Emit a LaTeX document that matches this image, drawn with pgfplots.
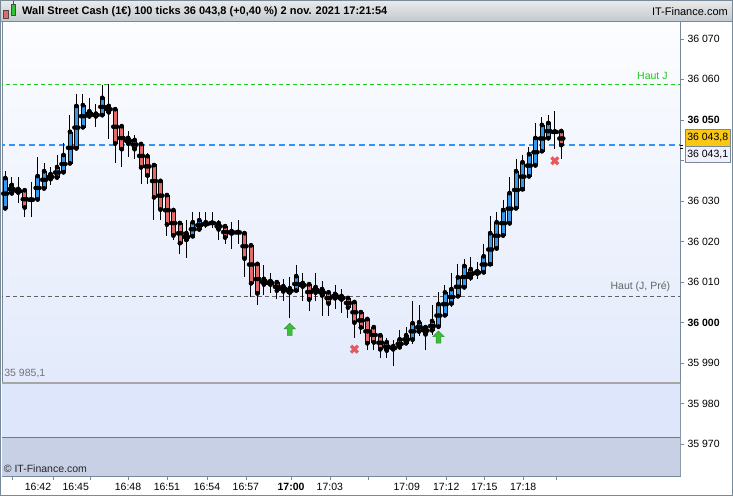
\documentclass[border=0pt]{standalone}
\usepackage{fontspec}
\setmainfont{Liberation Sans}
\usepackage{pgfplots}
\pgfplotsset{compat=1.18}
\usepackage{pgfplotstable}

\definecolor{upc}{RGB}{52,152,236}
\definecolor{dnc}{RGB}{228,106,106}
\definecolor{frame}{RGB}{120,138,152}
\definecolor{bgtop}{RGB}{252,253,255}
\definecolor{bgbot}{RGB}{220,229,250}
\definecolor{bandA}{RGB}{221,230,251}
\definecolor{bandB}{RGB}{200,208,230}
\definecolor{hautj}{RGB}{30,200,30}
\definecolor{lastc}{RGB}{51,150,245}
\definecolor{prev}{RGB}{100,100,100}
\definecolor{buyg}{RGB}{60,190,60}
\definecolor{buyd}{RGB}{40,150,40}
\definecolor{sellr}{RGB}{228,90,95}
\definecolor{gold}{RGB}{250,200,20}

% tick candles: index, open, high, low, close
\pgfplotstableread{
i O H L C
1 36028.2 36037.4 36028.0 36035.6
2 36031.9 36035.9 36031.5 36033.9
3 36032.9 36035.9 36029.6 36032.1
4 36032.6 36032.6 36026.1 36028.4
5 36030.3 36034.7 36026.1 36030.3
6 36030.4 36040.8 36030.4 36036.1
7 36033.1 36039.3 36033.1 36037.3
8 36035.4 36038.3 36034.0 36036.6
9 36035.8 36041.4 36035.8 36038.3
10 36037.1 36044.2 36037.1 36041.3
11 36039.3 36051.2 36039.3 36047.0
12 36043.0 36056.4 36043.0 36053.4
13 36048.2 36056.4 36048.2 36053.6
14 36050.9 36055.4 36050.2 36052.1
15 36051.5 36054.0 36048.2 36050.9
16 36051.2 36058.5 36051.2 36055.4
17 36053.4 36058.9 36045.2 36051.9
18 36052.6 36052.6 36039.3 36044.2
19 36048.4 36048.4 36038.3 36042.8
20 36045.5 36047.2 36040.8 36044.2
21 36045.0 36046.2 36040.3 36042.8
22 36044.0 36044.0 36034.1 36038.3
23 36041.0 36041.8 36034.1 36036.3
24 36038.8 36038.8 36025.2 36030.9
25 36034.9 36034.9 36025.2 36027.9
26 36031.4 36031.4 36021.3 36024.2
27 36027.7 36027.7 36020.3 36021.5
28 36024.5 36024.5 36016.9 36019.6
29 36022.0 36025.3 36016.0 36020.4
30 36021.3 36027.2 36021.3 36024.7
31 36023.0 36027.2 36023.0 36025.2
32 36024.2 36027.2 36023.3 36024.7
33 36024.6 36027.2 36023.3 36024.6
34 36024.5 36025.2 36020.3 36023.0
35 36023.7 36023.7 36019.3 36021.0
36 36022.5 36024.7 36018.1 36022.0
37 36022.3 36025.2 36019.3 36022.3
38 36022.0 36022.0 36011.2 36015.8
39 36019.0 36019.0 36006.2 36009.7
40 36014.4 36014.4 36004.2 36007.2
41 36010.7 36014.1 36006.7 36009.4
42 36010.2 36012.1 36007.2 36009.4
43 36009.9 36009.9 36005.7 36007.9
44 36008.9 36010.7 36005.2 36007.7
45 36008.4 36011.2 36001.0 36007.4
46 36007.9 36014.1 36007.9 36011.4
47 36009.7 36012.1 36005.2 36008.9
48 36009.4 36009.4 36002.8 36005.7
49 36007.4 36012.1 36005.2 36008.7
50 36008.2 36010.2 36001.5 36006.7
51 36007.4 36007.4 36001.5 36004.7
52 36006.0 36009.2 36003.3 36007.0
53 36006.5 36008.2 36002.3 36005.7
54 36006.0 36006.0 36001.0 36003.7
55 36005.0 36005.0 35996.1 36000.0
56 36002.5 36002.5 35997.1 35998.8
57 36000.8 36000.8 35993.1 35994.9
58 35998.8 35998.8 35993.1 35995.1
59 35996.8 35996.8 35991.2 35993.4
60 35995.1 35996.1 35991.2 35993.1
61 35994.1 35995.6 35989.2 35993.4
62 35993.9 35998.1 35993.9 35995.8
63 35994.9 35999.0 35994.9 35996.8
64 35995.8 36005.2 35994.6 35999.8
65 35997.8 36004.2 35996.6 36000.0
66 35998.8 35998.8 35993.1 35997.1
67 35998.1 36004.2 35996.8 36000.3
68 35999.0 36007.4 35999.0 36004.5
69 36001.8 36009.2 36001.8 36007.4
70 36004.7 36012.1 36003.7 36008.2
71 36006.5 36014.4 36006.5 36011.1
72 36008.7 36015.6 36008.7 36013.9
73 36011.1 36016.1 36010.2 36013.1
74 36012.1 36014.9 36010.7 36012.6
75 36012.4 36019.3 36012.4 36016.3
76 36014.4 36026.2 36014.4 36022.0
77 36018.3 36027.2 36018.3 36024.7
78 36021.5 36030.2 36021.5 36027.7
79 36024.5 36035.8 36024.5 36031.9
80 36028.2 36040.3 36028.2 36037.3
81 36032.9 36041.3 36032.9 36039.5
82 36036.1 36043.2 36036.1 36041.5
83 36038.8 36049.2 36038.8 36045.5
84 36042.3 36050.7 36042.3 36048.7
85 36045.5 36051.1 36045.5 36049.2
86 36047.1 36052.1 36042.8 36047.1
87 36047.2 36047.2 36040.3 36043.8
}\candles

\pgfplotstableread{
i y
45 35998.3
68 35996.4
}\buys

\pgfplotstableread{
i y
55 35993.4
86 36039.9
}\sells

\pgfdeclareplotmark{buyarrow}{%
  \pgfpathmoveto{\pgfpoint{0pt}{6pt}}%
  \pgfpathlineto{\pgfpoint{5.5pt}{0.5pt}}%
  \pgfpathlineto{\pgfpoint{2.4pt}{0.5pt}}%
  \pgfpathlineto{\pgfpoint{2.4pt}{-6pt}}%
  \pgfpathlineto{\pgfpoint{-2.4pt}{-6pt}}%
  \pgfpathlineto{\pgfpoint{-2.4pt}{0.5pt}}%
  \pgfpathlineto{\pgfpoint{-5.5pt}{0.5pt}}%
  \pgfpathclose
  \pgfusepathqfillstroke}

% vertical / horizontal strokes drawn as error bars
\pgfplotsset{
  vbar/.style 2 args={only marks, mark=none, forget plot,
    error bars/.cd, y dir=#1, y explicit, error mark=none, error bar style={#2}},
  hbar/.style={only marks, mark=none, forget plot,
    error bars/.cd, x dir=both, x explicit, error mark=none, error bar style={#1}},
}

\begin{document}
\begin{tikzpicture}
\useasboundingbox (-2pt,-20pt) rectangle (731pt,476pt);
\fill[white] (-2pt,-20pt) rectangle (731pt,476pt);

\begin{axis}[
  scale only axis, width=678pt, height=455pt,
  xmin=0.49, xmax=105.36, ymin=35962.1, ymax=36074.4,
  axis background/.style={top color=bgtop, bottom color=bgbot},
  axis line style={draw=frame, line width=0.8pt},
  tick align=outside, xtick pos=lower, ytick pos=right, yticklabel pos=right,
  major tick length=4pt,
  tick style={draw=frame, line width=0.6pt},
  ticklabel style={font=\fontsize{10.5}{12}\selectfont, text=black},
  ytick={35970,35980,35990,36000,36010,36020,36030,36040,36050,36060,36070},
  yticklabels={35 970,35 980,35 990,\textbf{36 000},36 010,36 020,36 030,36 040,\textbf{36 050},36 060,36 070},
  xtick={2.04,8.38,14.1,19.98,26.0,32.2,38.2,45.2,51.2,57.1,63.1,69.2,75.1,81.1,86.2},
  xticklabels={,,,16:48,16:51,16:54,16:57,\textbf{17:00},17:03,,17:09,17:12,17:15,17:18,},
  extra x ticks={6.06,11.9},
  extra x tick labels={16:42,16:45},
  extra x tick style={tick style={draw=none}},
  extra y ticks={36043.8,36043.1},
  extra y tick labels={},
  extra y tick style={major tick length=3pt, tick style={draw=black, line width=0.5pt}},
]

% lower bands
\addplot[fill=bandA, draw=none, forget plot] coordinates {(0,35962.1) (106,35962.1) (106,35985.1) (0,35985.1)} --cycle;
\addplot[fill=bandB, draw=none, forget plot] coordinates {(0,35962.1) (106,35962.1) (106,35971.5) (0,35971.5)} --cycle;
\addplot[draw=black!35, line width=1.4pt, forget plot] coordinates {(0,35985.1) (106,35985.1)};
\addplot[draw=frame!90!black, line width=0.9pt, forget plot] coordinates {(0,35971.5) (106,35971.5)};

% reference levels
\addplot[color=hautj, line width=1pt, dash pattern=on 4pt off 3pt, forget plot] coordinates {(0,36058.73) (106,36058.73)};
\addplot[color=prev, line width=1pt, dash pattern=on 4pt off 3pt, forget plot] coordinates {(0,36006.4) (106,36006.4)};
\addplot[color=lastc, line width=2pt, dash pattern=on 6pt off 4pt, forget plot] coordinates {(0,36043.8) (106,36043.8)};

% wicks (above and below the body)
\addplot[vbar={plus}{draw=black, line width=1pt}]
  table[x=i, y expr={max(\thisrow{O},\thisrow{C})}, y error expr={\thisrow{H}-max(\thisrow{O},\thisrow{C})}] {\candles};
\addplot[vbar={minus}{draw=black, line width=1pt}]
  table[x=i, y expr={min(\thisrow{O},\thisrow{C})}, y error expr={min(\thisrow{O},\thisrow{C})-\thisrow{L}}] {\candles};

% body fills
\addplot[restrict expr to domain={\thisrow{C}-\thisrow{O}}{0.05:1000}, vbar={both}{draw=upc, line width=3.4pt}]
  table[x=i, y expr={(\thisrow{O}+\thisrow{C})/2}, y error expr={abs(\thisrow{O}-\thisrow{C})/2}] {\candles};
\addplot[restrict expr to domain={\thisrow{O}-\thisrow{C}}{0.05:1000}, vbar={both}{draw=dnc, line width=3.4pt}]
  table[x=i, y expr={(\thisrow{O}+\thisrow{C})/2}, y error expr={abs(\thisrow{O}-\thisrow{C})/2}] {\candles};

% body borders: left, right, top, bottom
\addplot[vbar={both}{draw=black, line width=0.65pt}]
  table[x expr={\thisrow{i}-0.31}, y expr={(\thisrow{O}+\thisrow{C})/2}, y error expr={abs(\thisrow{O}-\thisrow{C})/2+0.16}] {\candles};
\addplot[vbar={both}{draw=black, line width=0.65pt}]
  table[x expr={\thisrow{i}+0.31}, y expr={(\thisrow{O}+\thisrow{C})/2}, y error expr={abs(\thisrow{O}-\thisrow{C})/2+0.16}] {\candles};
\addplot[hbar={draw=black, line width=0.65pt}]
  table[x=i, y expr={max(\thisrow{O},\thisrow{C})+0.08}, x error expr={0.36}] {\candles};
\addplot[hbar={draw=black, line width=0.65pt}]
  table[x=i, y expr={min(\thisrow{O},\thisrow{C})-0.08}, x error expr={0.36}] {\candles};

% signals
\addplot[only marks, mark=buyarrow, fill=buyg, draw=buyd, line width=0.5pt, forget plot] table[x=i, y=y] {\buys};
\addplot[only marks, mark=x, mark size=4.8pt, draw=sellr, line width=3.3pt, forget plot] table[x=i, y=y] {\sells};

\node[anchor=south east, inner sep=1.5pt, text=hautj, font=\fontsize{10.5}{12}\selectfont] at (axis cs:103.7,36059.6) {Haut J};
\node[anchor=south east, inner sep=1.5pt, text=prev, font=\fontsize{10.5}{12}\selectfont] at (axis cs:104.1,36007.2) {Haut (J, Pré)};
\node[anchor=south west, inner sep=1.5pt, text=black!55, font=\fontsize{10.5}{12}\selectfont] at (axis cs:0.6,35985.8) {35 985,1};
\node[anchor=west, inner sep=1pt, text=black!85, font=\fontsize{10.5}{12}\selectfont] at (axis cs:0.6,35963.9) {© IT-Finance.com};
\end{axis}

% title bar
\shade[top color=black!8!white, bottom color=frame!45!white] (-2pt,455pt) rectangle (731pt,476pt);
\draw[frame, line width=0.8pt] (-2pt,455pt) -- (731pt,455pt);
\draw[black!70, fill=dnc] (1.5pt,458pt) rectangle (6pt,466pt);
\draw[black!70] (3.75pt,456.5pt) -- (3.75pt,458pt);
\draw[black!70, fill=green!70!black!80] (9pt,461pt) rectangle (13.5pt,472pt);
\draw[black!70] (11.25pt,472pt) -- (11.25pt,475pt);
\node[anchor=west, inner sep=0pt, font=\bfseries\fontsize{11}{13}\selectfont] at (20pt,464.5pt) {Wall Street Cash (1€) 100 ticks 36 043,8 (+0,40 \%) 2 nov. 2021 17:21:54};
\node[anchor=east, inner sep=0pt, font=\fontsize{11}{13}\selectfont] at (726pt,464.5pt) {IT-Finance.com};

% price boxes
\node[draw=frame, fill=gold, anchor=north west, minimum width=45pt, minimum height=17pt, inner sep=0pt, font=\fontsize{10.5}{12}\selectfont] at (683pt,347pt) {36 043,8};
\node[draw=frame, fill=black!4!blue!6!white, anchor=north west, minimum width=45pt, minimum height=16pt, inner sep=0pt, font=\fontsize{10.5}{12}\selectfont] at (683pt,330pt) {36 043,1};

\draw[frame, line width=1pt] (-1.5pt,-19.5pt) rectangle (730.5pt,475.5pt);
\end{tikzpicture}
\end{document}
